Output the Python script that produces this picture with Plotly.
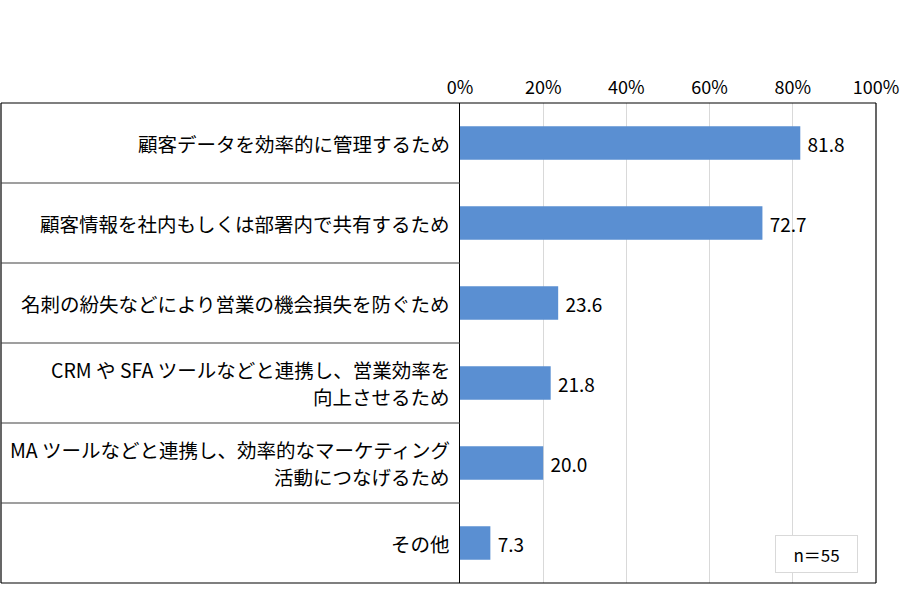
import plotly.graph_objects as go

# data
categories = [
    "顧客データを効率的に管理するため",
    "顧客情報を社内もしくは部署内で共有するため",
    "名刺の紛失などにより営業の機会損失を防ぐため",
    "CRM や SFA ツールなどと連携し、営業効率を<br>向上させるため",
    "MA ツールなどと連携し、効率的なマーケティング<br>活動につなげるため",
    "その他",
]
values = [81.8, 72.7, 23.6, 21.8, 20.0, 7.3]
x_ticks = [0, 20, 40, 60, 80, 100]
tick_labels = ["0%", "20%", "40%", "60%", "80%", "100%"]
n_note = "n＝55"

W, H = 900, 603
L, R, T, B = 460, 24, 103, 20
pw = W - L - R
left_edge = -(L - 1) / pw  # paper x for the left border of the table
label_x = -8 / pw          # right end of the category labels

font_jp = "Noto Sans CJK JP"
bar_color = "#5A8FD2"

fig = go.Figure()

fig.add_trace(go.Bar(
    x=values, y=list(range(len(categories))), orientation="h",
    marker=dict(color=bar_color, line=dict(width=0)),
    width=0.42,
    text=[f" {v:.1f}" for v in values], textposition="outside",
    textfont=dict(size=19, color="#000000", family=font_jp),
    cliponaxis=False, hoverinfo="skip",
))

fig.update_layout(
    width=W, height=H,
    margin=dict(l=L, r=R, t=T, b=B, autoexpand=False),
    plot_bgcolor="white", paper_bgcolor="white",
    showlegend=False,
    font=dict(family=font_jp, color="#000000"),
)

fig.update_xaxes(
    range=[0, 100], side="top", automargin=False,
    tickvals=x_ticks, ticktext=tick_labels,
    tickfont=dict(size=18, color="#000000"),
    showgrid=True, gridcolor="#d9d9d9", gridwidth=1,
    zeroline=False, showline=False, ticks="", ticklabelstandoff=4,
)

fig.update_yaxes(
    range=[len(categories) - 0.5, -0.5], automargin=False,
    showticklabels=False,
    showgrid=False, zeroline=False, ticks="",
    showline=True, linecolor="#000000", linewidth=1.2,
)

# category labels, one annotation per line
for i, cat in enumerate(categories):
    lines = cat.split("<br>")
    offs = [0] if len(lines) == 1 else [13.5, -13.5]
    for line, off in zip(lines, offs):
        fig.add_annotation(
            xref="paper", yref="y", x=label_x, y=i, yshift=off,
            xanchor="right", yanchor="middle", text=line, showarrow=False,
            font=dict(size=19.5, color="#000000", family=font_jp),
        )

# table frame: outer border
frame = dict(color="#000000", width=1.2)
fig.add_shape(type="line", xref="paper", yref="paper", x0=left_edge, x1=1, y0=1, y1=1, line=frame)
fig.add_shape(type="line", xref="paper", yref="paper", x0=left_edge, x1=1, y0=0, y1=0, line=frame)
fig.add_shape(type="line", xref="paper", yref="paper", x0=left_edge, x1=left_edge, y0=0, y1=1, line=frame)
fig.add_shape(type="line", xref="paper", yref="paper", x0=1, x1=1, y0=0, y1=1, line=frame)

# row separators in the label column
for i in range(1, len(categories)):
    fig.add_shape(type="line", xref="paper", yref="y", x0=left_edge, x1=0,
                  y0=i - 0.5, y1=i - 0.5, line=dict(color="#404040", width=1.2))

# n box
fig.add_annotation(
    xref="paper", yref="paper", x=0.957, y=0.021, xanchor="right", yanchor="bottom",
    text=n_note, showarrow=False, width=67, height=22,
    font=dict(size=17, color="#000000", family=font_jp),
    bgcolor="white", bordercolor="#d9d9d9", borderwidth=1, borderpad=7,
)

# page has a default body margin; drop it so the figure sits at 0,0
fig.write_html("out.html", config={"displayModeBar": False},
               post_script="document.body.style.margin='0px';")
